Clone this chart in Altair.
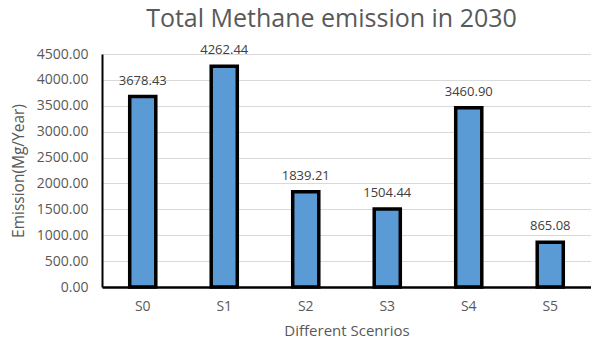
import altair as alt
import pandas as pd

scenarios = ["S0", "S1", "S2", "S3", "S4", "S5"]
emissions = [3678.43, 4262.44, 1839.21, 1504.44, 3460.90, 865.08]
y_ticks = [0, 500, 1000, 1500, 2000, 2500, 3000, 3500, 4000, 4500]

df = pd.DataFrame({"scenario": scenarios, "emission": emissions})
df["label"] = df["emission"].map(lambda v: f"{v:.2f}")

FONT = "Open Sans"
GREY = "#595959"

x_enc = alt.X(
    "scenario:N",
    sort=scenarios,
    scale=alt.Scale(paddingInner=0.68, paddingOuter=0.34),
    axis=alt.Axis(
        title="Different Scenrios",
        labelAngle=0,
        ticks=False,
        domainColor="black",
        domainWidth=2.5,
        labelPadding=12,
        titlePadding=10,
        titleFontSize=15,
    ),
)
y_enc = alt.Y(
    "emission:Q",
    scale=alt.Scale(domain=[0, 4500]),
    axis=alt.Axis(
        title="Emission(Mg/Year)",
        values=y_ticks,
        format=".2f",
        ticks=False,
        labelOverlap=False,
        domainColor="black",
        domainWidth=2,
        gridColor="#d9d9d9",
        labelPadding=14,
        titleX=-76,
        titleFontSize=15.5,
    ),
)

bars = alt.Chart(df).mark_bar(
    color="#5B9BD5", stroke="black", strokeWidth=3.5
).encode(x=x_enc, y=y_enc)

labels = alt.Chart(df).mark_text(
    baseline="bottom", dy=-9, fontSize=13, font=FONT, color="#404040"
).encode(x=x_enc, y=y_enc, text="label:N")

chart = (
    alt.layer(bars, labels)
    .properties(
        width=489,
        height=233,
        autosize=alt.AutoSizeParams(type="none"),
        padding={"left": 102, "top": 54, "right": 0, "bottom": 56},
        title=alt.TitleParams(
            "Total Methane emission in 2030",
            fontSize=25,
            font=FONT,
            fontWeight="normal",
            color=GREY,
            anchor="middle",
            dx=-15,
            offset=12,
        ),
    )
    .configure_view(stroke=None)
    .configure_axis(
        labelFont=FONT,
        titleFont=FONT,
        labelFontSize=14,
        labelColor=GREY,
        titleColor=GREY,
        titleFontWeight="normal",
    )
)

chart.save("out.html", embed_options={"renderer": "svg", "actions": False})
